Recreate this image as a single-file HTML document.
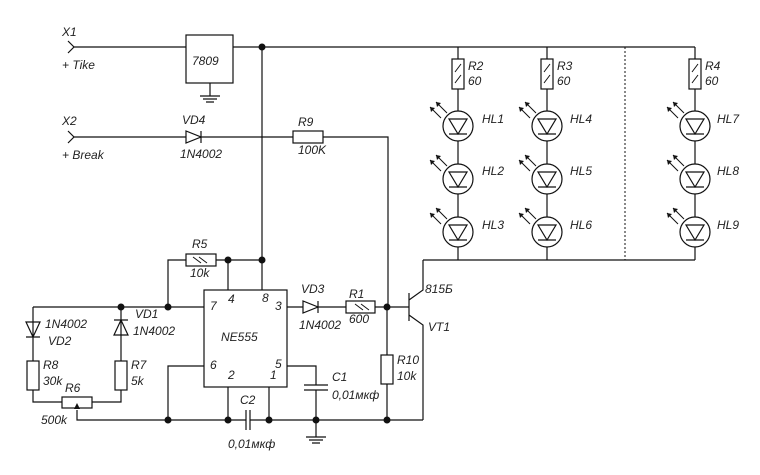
<!DOCTYPE html>
<html><head><meta charset="utf-8"><style>
html,body{margin:0;padding:0;background:#fff;}
svg{display:block;}
text{font-family:"Liberation Sans",sans-serif;font-style:italic;font-size:12px;fill:#222;}
</style></head><body>
<svg width="760" height="475" viewBox="0 0 760 475" xmlns="http://www.w3.org/2000/svg">
<defs>
<g id="led">
<circle cx="0" cy="0" r="15" fill="#fff" stroke="#111" stroke-width="1.2"/>
<path d="M-9,-7 L9,-7 L0,8 Z M-9,8 L9,8" fill="none" stroke="#111" stroke-width="1.2"/>
<path d="M-11,-13 L-22,-24 M-17,-8 L-28,-19" stroke="#111" stroke-width="1" fill="none"/>
<path d="M-22,-24 L-21,-19 L-17,-23 Z M-28,-19 L-27,-14 L-23,-18 Z" fill="#111"/>
</g>
<g id="rv"><rect x="-6" y="0" width="12" height="30" fill="#fff" stroke="#111" stroke-width="1.2"/><path d="M-3,13 L3,5 M-3,24 L3,16" stroke="#111"/></g>
</defs>
<g stroke="#111" stroke-width="1.2" fill="none">
<path d="M74,47 L186,47 M233,47 L695,47"/>
<path d="M68,41 L74,47 L68,53 M68,131 L74,137 L68,143"/>
<rect x="186" y="35" width="47" height="48" fill="#fff"/>
<path d="M210,83 L210,96 M200,96 L220,96 M203,99 L217,99 M206,102 L214,102"/>
<path d="M74,137 L186,137 M201,137 L293,137 M323,137 L388,137 L388,307"/>
<path d="M186,131 L186,143 L201,137 Z M201,131 L201,143"/>
<rect x="293" y="131" width="30" height="12" fill="#fff"/>
<path d="M262,47 L262,290"/>
<path d="M458,47 L458,260 M547,47 L547,260 M695,47 L695,260 M423,260 L695,260"/>
<path d="M625,47 L625,260" stroke-dasharray="2,2" stroke-width="1"/>
<path d="M423,260 L423,290 L409,300 M409,293 L409,321 M409,315 L423,325 L423,420"/>
<path d="M387,307 L409,307"/>
<rect x="204" y="290" width="83" height="97" fill="#fff"/>
<path d="M33,307 L204,307 M168,307 L168,260 L186,260 M216,260 L262,260 M228,260 L228,290"/>
<rect x="186" y="254" width="30" height="12" fill="#fff"/>
<path d="M193,257 L201,263 M199,257 L207,263" stroke-width="1"/>
<path d="M287,307 L303,307 M318,307 L346,307 M375,307 L387,307"/>
<path d="M303,301 L303,313 L318,307 Z M318,301 L318,313"/>
<rect x="346" y="301" width="29" height="12" fill="#fff"/>
<path d="M355,304 L363,310 M361,304 L369,310" stroke-width="1"/>
<path d="M387,307 L387,420"/>
<rect x="381" y="355" width="12" height="29" fill="#fff"/>
<path d="M33,307 L33,402 L62,402 M92,402 L121,402 L121,307"/>
<path d="M26,322 L40,322 L33,337 Z M26,337 L40,337"/>
<path d="M114,335 L128,335 L121,320 Z M114,320 L128,320"/>
<rect x="27" y="361" width="12" height="29" fill="#fff"/>
<rect x="115" y="361" width="12" height="29" fill="#fff"/>
<rect x="62" y="397" width="30" height="11" fill="#fff"/>
<path d="M77,410 L77,420 L246,420 M250,420 L423,420"/>
<path d="M204,366 L168,366 L168,420 M228,387 L228,420 M269,387 L269,420"/>
<path d="M246,410 L246,430 M250,410 L250,430"/>
<path d="M287,366 L316,366 L316,385 M304,385 L328,385 M304,390 L328,390 M316,390 L316,437 M306,437 L326,437 M309,440 L323,440 M312,443 L320,443"/>
</g>
<path d="M74,409 L77,403 L80,409 Z" fill="#111"/>
<g fill="#111">
<circle cx="262" cy="47" r="3.5"/><circle cx="262" cy="260" r="3.5"/><circle cx="228" cy="260" r="3.5"/>
<circle cx="168" cy="307" r="3.5"/><circle cx="121" cy="307" r="3.5"/><circle cx="387" cy="307" r="3.5"/>
<circle cx="168" cy="420" r="3.5"/><circle cx="228" cy="420" r="3.5"/><circle cx="269" cy="420" r="3.5"/>
<circle cx="316" cy="420" r="3.5"/><circle cx="387" cy="420" r="3.5"/>
</g>
<use href="#rv" x="458" y="59"/><use href="#rv" x="547" y="59"/><use href="#rv" x="695" y="59"/>
<use href="#led" x="458" y="126"/><use href="#led" x="458" y="179"/><use href="#led" x="458" y="232"/>
<use href="#led" x="547" y="126"/><use href="#led" x="547" y="179"/><use href="#led" x="547" y="232"/>
<use href="#led" x="695" y="126"/><use href="#led" x="695" y="179"/><use href="#led" x="695" y="232"/>
<text x="62" y="36">X1</text><text x="62" y="69">+ Tike</text>
<text x="62" y="125">X2</text><text x="62" y="159">+ Break</text>
<text x="192" y="65" font-size="14">7809</text>
<text x="182" y="124">VD4</text><text x="180" y="158">1N4002</text>
<text x="298" y="126">R9</text><text x="298" y="154">100K</text>
<text x="468" y="70">R2</text><text x="468" y="85">60</text>
<text x="557" y="70">R3</text><text x="557" y="85">60</text>
<text x="705" y="70">R4</text><text x="705" y="85">60</text>
<text x="482" y="123">HL1</text><text x="482" y="175">HL2</text><text x="482" y="229">HL3</text>
<text x="570" y="123">HL4</text><text x="570" y="175">HL5</text><text x="570" y="229">HL6</text>
<text x="717" y="123">HL7</text><text x="717" y="175">HL8</text><text x="717" y="229">HL9</text>
<text x="425" y="293">815Б</text><text x="428" y="331">VT1</text>
<text x="192" y="248">R5</text><text x="190" y="277">10k</text>
<text x="221" y="341" font-size="15">NE555</text>
<g font-size="8"><text x="210" y="310">7</text><text x="228" y="303">4</text><text x="262" y="302">8</text><text x="275" y="310">3</text>
<text x="210" y="369">6</text><text x="228" y="379">2</text><text x="270" y="379">1</text><text x="275" y="368">5</text></g>
<text x="301" y="293">VD3</text><text x="299" y="329">1N4002</text>
<text x="349" y="298">R1</text><text x="349" y="323">600</text>
<text x="397" y="364">R10</text><text x="397" y="380">10k</text>
<text x="332" y="381">C1</text><text x="332" y="399">0,01мкф</text>
<text x="240" y="404">C2</text><text x="228" y="448">0,01мкф</text>
<text x="135" y="318">VD1</text><text x="133" y="335">1N4002</text>
<text x="45" y="328">1N4002</text><text x="48" y="345">VD2</text>
<text x="43" y="369">R8</text><text x="43" y="385">30k</text>
<text x="131" y="369">R7</text><text x="131" y="385">5k</text>
<text x="65" y="392">R6</text><text x="41" y="424">500k</text>
</svg>
</body></html>
